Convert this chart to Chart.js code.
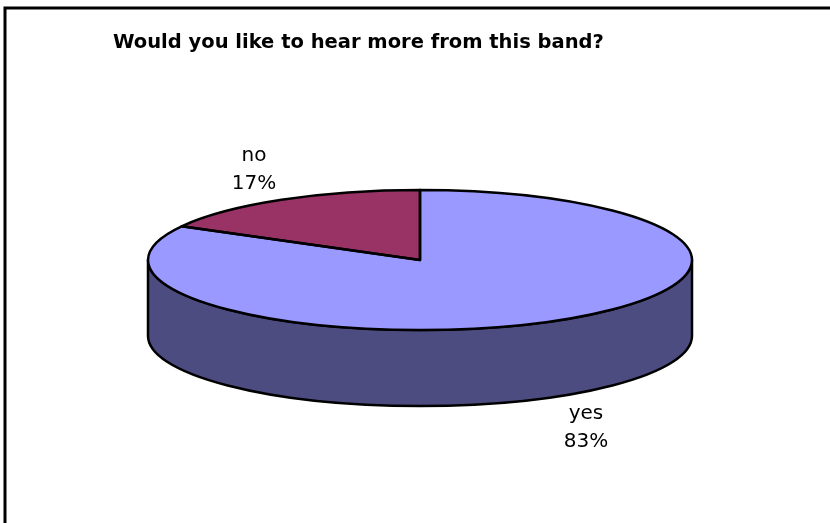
<!DOCTYPE html>
<html>
<head>
<meta charset="utf-8">
<script src="https://cdn.jsdelivr.net/npm/chart.js@4/dist/chart.umd.min.js"></script>
<style>
  html, body { margin: 0; padding: 0; background: #fff; }
  #pie { display: block; }
</style>
</head>
<body>
<canvas id="pie" width="830" height="523"></canvas>
<script>
// Chart data
const chartTitle = "Would you like to hear more from this band?";
const labels = ["yes", "no"];
const values = [83, 17];
const topColors = ["#9999FF", "#993366"];
const sideColors = ["#4C4C80", "#4D1A33"];

// Ellipse look of the 3D pie
const RX = 272;
const RY = 70;
const DEPTH = 76;

function wallRanges(a0, a1) {
    // parts of [a0, a1] that face the viewer (sin > 0)
    const out = [];
    for (let k = -1; k <= 1; k++) {
        const lo = Math.max(a0, 2 * Math.PI * k);
        const hi = Math.min(a1, 2 * Math.PI * k + Math.PI);
        if (hi > lo) out.push([lo, hi]);
    }
    return out;
}

const pie3d = {
    id: "pie3d",
    beforeDatasetsDraw(chart) {
        const ctx = chart.ctx;
        const arcs = chart.getDatasetMeta(0).data;
        const cx = arcs[0].x, cy = arcs[0].y, r = arcs[0].outerRadius;

        // side wall
        ctx.save();
        ctx.lineWidth = 2.5;
        ctx.lineJoin = "round";
        ctx.strokeStyle = "#000";
        arcs.forEach((arc, i) => {
            wallRanges(arc.startAngle, arc.endAngle).forEach(([a0, a1]) => {
                ctx.beginPath();
                ctx.ellipse(cx, cy, RX, RY, 0, a0, a1);
                ctx.ellipse(cx, cy + DEPTH, RX, RY, 0, a1, a0, true);
                ctx.closePath();
                ctx.fillStyle = sideColors[i];
                ctx.fill();
                ctx.stroke();
            });
        });
        ctx.restore();

        // squash the library's pie into the top ellipse
        ctx.save();
        ctx.translate(cx, cy);
        ctx.scale(RX / r, RY / r);
        ctx.translate(-cx, -cy);
    },
    afterDatasetsDraw(chart) {
        const ctx = chart.ctx;
        ctx.restore();
        const arcs = chart.getDatasetMeta(0).data;
        const cx = arcs[0].x, cy = arcs[0].y;

        // outlines of the top face
        ctx.save();
        ctx.lineWidth = 2.5;
        ctx.lineJoin = "round";
        ctx.strokeStyle = "#000";
        arcs.forEach(arc => {
            ctx.beginPath();
            ctx.moveTo(cx, cy);
            ctx.ellipse(cx, cy, RX, RY, 0, arc.startAngle, arc.endAngle);
            ctx.closePath();
            ctx.stroke();
        });
        ctx.restore();

        // data labels
        const total = values.reduce((a, b) => a + b, 0);
        ctx.save();
        ctx.fillStyle = "#000";
        ctx.font = "20px 'DejaVu Sans'";
        ctx.textAlign = "center";
        ctx.textBaseline = "alphabetic";
        arcs.forEach((arc, i) => {
            const mid = (arc.startAngle + arc.endAngle) / 2;
            const c = Math.cos(mid), s = Math.sin(mid);
            const px = cx + RX * c;
            const py = cy + RY * s + (s > 0 ? DEPTH : 0);
            const lx = px + c * 54;
            const ly = py + s * 36;
            ctx.fillText(labels[i], lx, ly - 8);
            ctx.fillText(Math.round(values[i] / total * 100) + "%", lx, ly + 20);
        });
        ctx.restore();
    },
    afterDraw(chart) {
        const ctx = chart.ctx;
        ctx.save();
        // chart frame
        ctx.strokeStyle = "#000";
        ctx.lineWidth = 3;
        ctx.strokeRect(5, 8, 900, 600);
        // title
        ctx.fillStyle = "#000";
        ctx.font = "bold 19.5px 'DejaVu Sans'";
        ctx.textAlign = "left";
        ctx.textBaseline = "alphabetic";
        ctx.fillText(chartTitle, 113, 48);
        ctx.restore();
    }
};

new Chart(document.getElementById("pie"), {
    type: "pie",
    data: {
        labels: labels,
        datasets: [{
            data: values,
            backgroundColor: topColors,
            borderWidth: 0
        }]
    },
    options: {
        responsive: false,
        animation: false,
        layout: { padding: { left: 10, right: 0, top: 0, bottom: 3 } },
        plugins: {
            legend: { display: false },
            tooltip: { enabled: false },
            title: { display: false }
        }
    },
    plugins: [pie3d]
});
</script>
</body>
</html>
